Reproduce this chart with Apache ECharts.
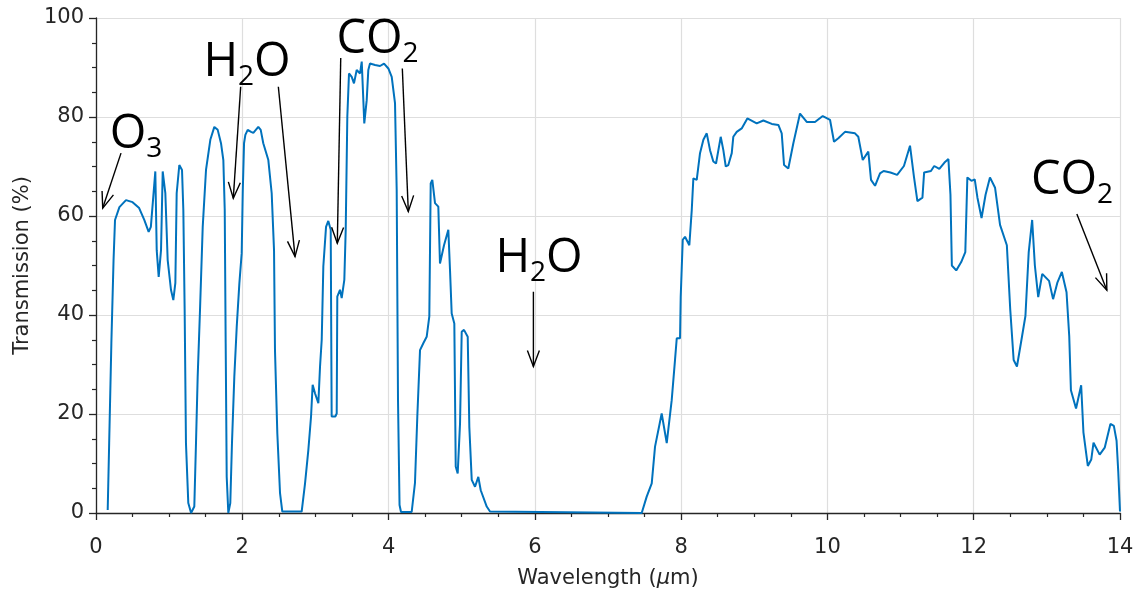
<!DOCTYPE html>
<html>
<head>
<meta charset="utf-8">
<script src="https://cdn.jsdelivr.net/npm/echarts@6.0.0/dist/echarts.min.js"></script>
<style>html,body{margin:0;padding:0;background:#fff}#c{width:1140px;height:597px}</style>
</head>
<body>
<div id="c"></div>
<script>
// ---- data ----
const wavelength = [
0.16,0.18,0.21,0.24,0.26,0.32,0.41,0.50,0.59,0.66,0.72,0.75,0.811,0.83,0.857,0.889,0.912,0.948,0.98,1.025,
1.057,1.085,1.103,1.139,1.176,1.194,1.212,1.23,1.262,1.30,1.344,1.367,1.39,1.422,1.459,1.504,1.563,1.618,1.664,1.709,
1.741,1.76,1.773,1.787,1.809,1.836,1.859,1.891,1.924,1.96,1.992,2.006,2.024,2.042,2.074,2.12,2.151,2.219,2.252,2.287,
2.356,2.402,2.434,2.447,2.479,2.516,2.547,2.812,2.858,2.903,2.94,2.962,2.994,3.04,3.063,3.086,3.108,3.145,3.176,3.209,
3.222,3.272,3.291,3.299,3.336,3.359,3.395,3.414,3.436,3.459,3.496,3.527,3.564,3.61,3.633,3.655,3.668,3.701,3.723,3.746,
3.815,3.883,3.938,3.997,4.043,4.088,4.111,4.129,4.15,4.17,4.316,4.361,4.393,4.43,4.475,4.521,4.557,4.576,4.598,4.635,
4.68,4.703,4.758,4.817,4.84,4.863,4.899,4.918,4.945,4.977,5.0,5.031,5.082,5.104,5.137,5.182,5.227,5.26,5.342,5.387,
7.461,7.529,7.598,7.643,7.734,7.803,7.871,7.916,7.94,7.985,7.994,8.022,8.053,8.112,8.145,8.167,8.213,8.258,8.304,8.35,
8.395,8.44,8.477,8.541,8.577,8.61,8.645,8.692,8.713,8.76,8.828,8.905,9.033,9.124,9.239,9.329,9.375,9.407,9.465,9.534,
9.625,9.717,9.83,9.936,10.036,10.09,10.149,10.24,10.377,10.422,10.483,10.559,10.596,10.651,10.719,10.768,10.861,10.953,11.046,11.129,
11.184,11.23,11.299,11.322,11.415,11.46,11.53,11.6,11.654,11.682,11.701,11.761,11.829,11.885,11.913,11.969,12.014,12.051,12.107,12.162,
12.222,12.292,12.36,12.453,12.499,12.546,12.591,12.661,12.707,12.752,12.799,12.836,12.882,12.937,13.03,13.085,13.145,13.205,13.269,13.306,
13.329,13.399,13.469,13.5,13.56,13.607,13.638,13.722,13.791,13.869,13.916,13.953,13.976,14.0
];
const transmission = [
0.6,14.1,34.3,51.1,59.2,61.8,63.2,62.8,61.6,59.2,56.8,57.8,69.0,53.1,47.7,53.1,69.0,64.6,51.1,45.1,
43.0,46.5,64.6,70.3,69.3,61.2,41.0,14.1,2.0,0,1.3,14.1,27.5,41.0,57.8,69.3,75.4,78.0,77.4,74.7,
71.3,61.2,34.3,7.3,0,2.0,14.1,27.5,37.6,46.4,52.5,64.6,74.7,76.4,77.4,77.0,76.8,78.0,77.4,74.7,
71.3,64.6,53.1,32.9,16.1,4.0,0.3,0.3,6.0,12.7,19.5,25.9,24.2,22.2,29.6,35.0,49.8,57.8,59.0,57.2,
19.5,19.5,20.1,43.7,45.1,43.4,47.1,57.2,80.1,88.8,88.1,86.8,89.5,88.8,91.2,83.4,78.7,83.4,89.5,90.8,
90.5,90.3,90.8,89.8,88.1,82.8,65.3,22.8,1.6,0.2,0.2,6.1,19.5,32.9,34.3,35.6,39.7,66.6,67.3,62.6,
61.9,50.4,54.1,57.2,49.1,40.3,38.3,9.4,8.0,18.1,36.6,37.0,35.6,17.4,6.7,5.3,7.3,4.6,1.3,0.3,
0,3.3,6.0,13.4,20.1,14.1,22.8,30.9,35.3,35.3,43.7,55.2,55.8,54.1,61.2,67.6,67.3,72.7,75.4,76.7,
73.3,71.0,70.6,76.0,73.3,70.0,70.3,72.7,76.0,77.0,77.7,79.7,78.7,79.3,78.6,78.4,76.7,70.3,69.6,74.7,
80.7,79.0,79.0,80.2,79.4,75.0,75.7,77.0,76.7,76.0,71.3,73.0,67.3,66.1,68.6,69.1,68.8,68.3,70.1,74.2,
67.8,63.0,63.7,68.8,69.1,70.1,69.5,70.8,71.5,64.3,50.0,49.0,50.7,52.7,67.8,67.1,67.4,63.7,59.6,64.3,
67.8,65.7,58.2,54.1,41.2,30.9,29.6,35.7,39.8,52.7,59.2,50.0,43.6,48.3,46.9,43.2,46.6,48.7,44.6,35.7,
24.8,21.1,25.8,16.3,9.5,10.8,14.2,11.8,13.2,18.0,17.6,14.6,8.4,0.3
];
// annotation labels and their anchor (data coordinates)
const annLabels = ['O3', 'H2O', 'CO2', 'H2O', 'CO2'];
const annX = [0.547, 2.065, 3.849, 6.057, 13.344];
const annY = [76.4, 91.0, 95.6, 51.4, 67.1];
// arrows: start (x,y) -> tip (x,y), data coordinates
const arrowX1 = [0.342, 1.978, 2.493, 3.346, 4.188, 5.98, 13.41];
const arrowY1 = [72.7, 86.1, 86.1, 91.9, 89.8, 44.7, 60.4];
const arrowX2 = [0.092, 1.877, 2.721, 3.299, 4.27, 5.98, 13.82];
const arrowY2 = [61.6, 63.6, 51.8, 54.5, 60.9, 29.6, 45.0];
const xTicks = { min: 0, max: 14, interval: 2 };
const yTicks = { min: 0, max: 100, interval: 20 };

// ---- chart ----
const chart = echarts.init(document.getElementById('c'), null, { renderer: 'canvas' });
const lineData = wavelength.map((w, i) => [w, transmission[i]]);
const arrowData = arrowX1.map((x, i) => [x, arrowY1[i], arrowX2[i], arrowY2[i]]);
const annData = annX.map((x, i) => [x, annY[i], i]);

function toRich(s) {
  // digits become subscripts
  let out = '';
  for (const ch of s) out += /[0-9]/.test(ch) ? '{s|' + ch + '}' : '{a|' + ch + '}';
  return out;
}
const AX = '#262626';
const tickFont = 'DejaVu Sans';
const annFont = 'Open Sans';

const axisCommon = {
  axisLine: { show: true, onZero: false, lineStyle: { color: AX, width: 1.3 } },
  axisTick: { show: true, inside: false, length: 7, lineStyle: { color: AX, width: 1.3 } },
  minorTick: { show: true, splitNumber: 4, length: 4, lineStyle: { color: AX, width: 1.2 } },
  splitLine: { show: true, lineStyle: { color: '#dedede', width: 1.2 } },
  minorSplitLine: { show: false }
};

chart.setOption({
  animation: false,
  backgroundColor: '#ffffff',
  grid: { left: 96, right: 20, top: 18, bottom: 84, containLabel: false },
  xAxis: Object.assign({
    type: 'value', min: xTicks.min, max: xTicks.max, interval: xTicks.interval,
    name: 'Wavelength ({i|μ}m)', nameLocation: 'middle', nameGap: 55,
    nameTextStyle: { fontFamily: tickFont, fontSize: 21, color: AX,
      rich: { i: { fontFamily: tickFont, fontSize: 21, color: AX, fontStyle: 'italic' } } },
    axisLabel: { fontFamily: tickFont, fontSize: 21, color: AX, margin: 24 }
  }, axisCommon),
  yAxis: Object.assign({
    type: 'value', min: yTicks.min, max: yTicks.max, interval: yTicks.interval,
    name: 'Transmission (%)', nameLocation: 'middle', nameGap: 63, nameRotate: 90,
    nameTextStyle: { fontFamily: tickFont, fontSize: 21, color: AX },
    axisLabel: { fontFamily: tickFont, fontSize: 21, color: AX, margin: 12 }
  }, axisCommon),
  series: [
    {
      type: 'line', data: lineData, showSymbol: false, symbol: 'none',
      lineStyle: { color: '#0072BD', width: 2 }, itemStyle: { color: '#0072BD' },
      smooth: false, z: 3
    },
    {
      type: 'custom', data: arrowData, clip: false, silent: true, z: 5,
      renderItem: function (params, api) {
        const p1 = api.coord([api.value(0), api.value(1)]);
        const p2 = api.coord([api.value(2), api.value(3)]);
        const ang = Math.atan2(p2[1] - p1[1], p2[0] - p1[0]);
        const L = 17, a = 0.36;
        const h1 = [p2[0] - L * Math.cos(ang - a), p2[1] - L * Math.sin(ang - a)];
        const h2 = [p2[0] - L * Math.cos(ang + a), p2[1] - L * Math.sin(ang + a)];
        const st = { stroke: '#000', lineWidth: 1.4, fill: null };
        return {
          type: 'group',
          children: [
            { type: 'line', shape: { x1: p1[0], y1: p1[1], x2: p2[0], y2: p2[1] }, style: st },
            { type: 'polyline', shape: { points: [h1, p2, h2] }, style: st }
          ]
        };
      }
    },
    {
      type: 'custom', data: annData, clip: false, silent: true, z: 6,
      renderItem: function (params, api) {
        const p = api.coord([api.value(0), api.value(1)]);
        return {
          type: 'text', x: p[0], y: p[1],
          style: {
            text: toRich(annLabels[api.value(2)]),
            align: 'center', verticalAlign: 'middle',
            rich: {
              a: { fontFamily: annFont, fontSize: 47, fill: '#000', lineHeight: 56 },
              s: { fontFamily: annFont, fontSize: 28, fill: '#000', lineHeight: 47, verticalAlign: 'bottom' }
            }
          }
        };
      }
    }
  ]
});
</script>
</body>
</html>
